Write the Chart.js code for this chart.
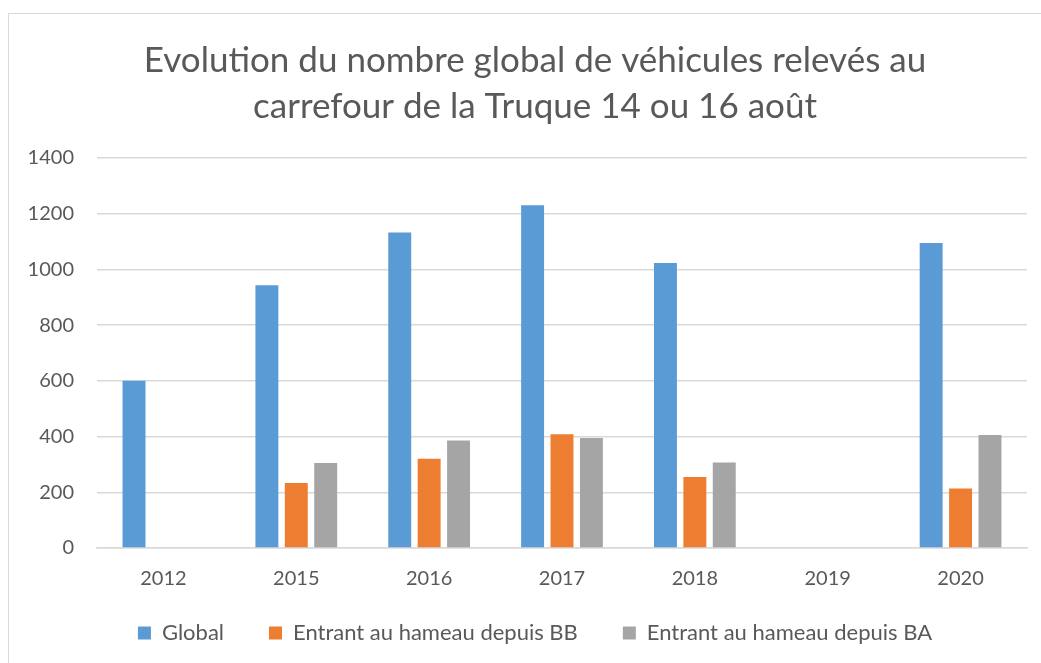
<!DOCTYPE html>
<html>
<head>
<meta charset="utf-8">
<script src="https://cdn.jsdelivr.net/npm/chart.js@4.4.1/dist/chart.umd.min.js"></script>
<style>
  html, body { margin: 0; padding: 0; background: #fff; }
  #wrap { position: relative; width: 1041px; height: 663px; overflow: hidden; }
  #frame { position: absolute; left: 8px; top: 13px; width: 1060px; height: 700px; border: 1px solid #d9d9d9; box-sizing: border-box; }
  canvas { position: absolute; left: 0; top: 0; }
</style>
</head>
<body>
<div id="wrap">
  <div id="frame"></div>
  <!-- canvas a bit wider than the window so the title centres like the original -->
  <canvas id="chart" width="1070" height="663"></canvas>
</div>
<script>
  const years = ['2012', '2015', '2016', '2017', '2018', '2019', '2020'];
  const globalCounts = [600, 943, 1133, 1230, 1023, null, 1095];
  const fromBB = [null, 233, 320, 408, 255, null, 214];
  const fromBA = [null, 305, 386, 395, 307, null, 406];
  const yTicks = [0, 200, 400, 600, 800, 1000, 1200, 1400];

  const TEXT = '#595959';
  const GRID = '#d9d9d9';
  const FONT = 'Lato, "Open Sans", sans-serif';
  const LEGEND_PAD = 45;

  function series(label, data, color) {
    return {
      label,
      data,
      backgroundColor: color,
      borderWidth: 0,
      categoryPercentage: 0.664,
      barPercentage: 0.78,
    };
  }

  // gaps between legend items without the same padding above/below them
  const legendSpacing = {
    id: 'legendSpacing',
    beforeLayout(chart) {
      const legend = chart.legend;
      if (!legend || legend._patched) return;
      const fit = legend.fit;
      legend.fit = function () {
        fit.call(this);
        this.height = 53;
      };
      legend._patched = true;
    },
    afterLayout(chart) {
      const legend = chart.legend;
      legend.top = 633 - 11 - LEGEND_PAD;
      legend.bottom = chart.height;
    },
  };

  new Chart(document.getElementById('chart'), {
    type: 'bar',
    data: {
      labels: years,
      datasets: [
        series('Global', globalCounts, '#5b9bd5'),
        series('Entrant au hameau depuis BB', fromBB, '#ed7d31'),
        series('Entrant au hameau depuis BA', fromBA, '#a5a5a5'),
      ],
    },
    plugins: [legendSpacing],
    options: {
      responsive: false,
      animation: false,
      layout: { padding: { left: 0, right: 0, top: 38, bottom: 0 } },
      plugins: {
        title: {
          display: true,
          text: ['Evolution du nombre global de véhicules relevés au', 'carrefour de la Truque 14 ou 16 août'],
          color: TEXT,
          font: { family: FONT, size: 35, weight: 'normal', lineHeight: 1.3 },
          padding: { top: 0, bottom: 29 },
        },
        legend: {
          position: 'bottom',
          labels: {
            color: TEXT,
            font: { family: FONT, size: 22 },
            boxWidth: 13,
            boxHeight: 13,
            padding: LEGEND_PAD,
          },
        },
        tooltip: { enabled: false },
      },
      scales: {
        x: {
          grid: { display: false, drawTicks: false },
          border: { color: GRID, width: 1.5 },
          ticks: { color: TEXT, font: { family: FONT, size: 20 }, padding: 19 },
        },
        y: {
          min: 0,
          max: 1400,
          afterBuildTicks: (axis) => { axis.ticks = yTicks.map((v) => ({ value: v })); },
          afterFit: (axis) => { axis.width = 97; },
          grid: { color: GRID, lineWidth: 1.5, drawTicks: false },
          border: { display: false },
          ticks: {
            color: TEXT,
            font: { family: FONT, size: 20 },
            padding: 23,
            callback: (v) => String(v),
          },
        },
        // empty right margin so the plot ends where the original's does
        yRight: {
          position: 'right',
          display: true,
          min: 0,
          max: 1400,
          afterFit: (axis) => { axis.width = 43; },
          grid: { display: false, drawTicks: false },
          border: { display: false },
          ticks: { display: false },
        },
      },
    },
  });
</script>
</body>
</html>
